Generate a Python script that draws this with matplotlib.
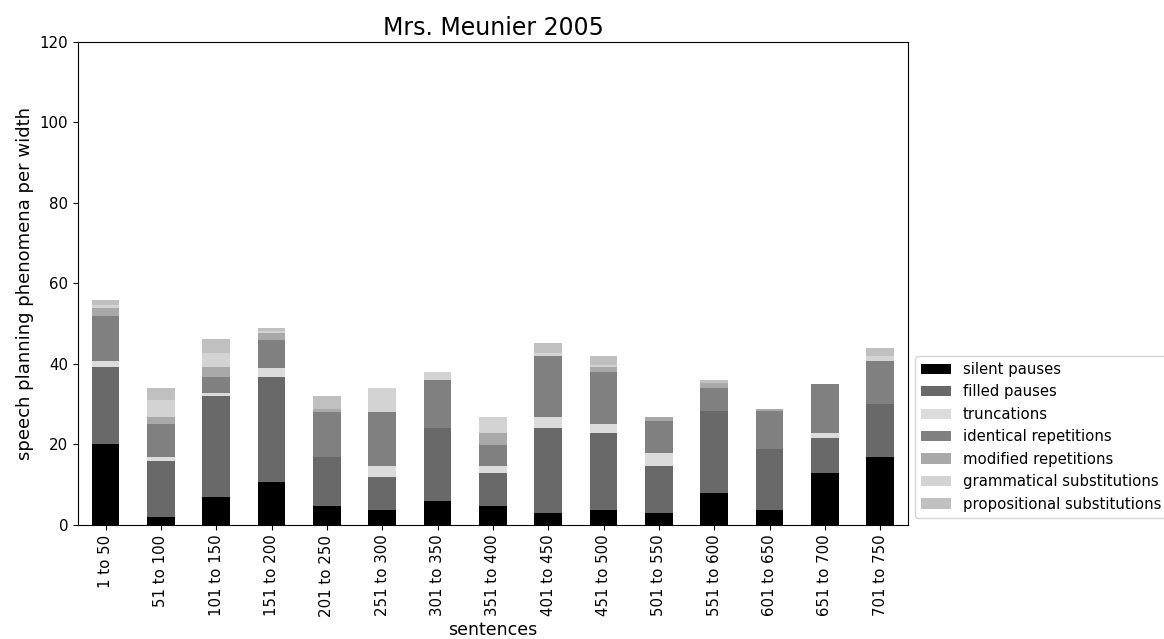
import matplotlib
matplotlib.use("Agg")
import matplotlib.pyplot as plt
import numpy as np

categories = ["1 to 50", "51 to 100", "101 to 150", "151 to 200", "201 to 250",
              "251 to 300", "301 to 350", "351 to 400", "401 to 450", "451 to 500",
              "501 to 550", "551 to 600", "601 to 650", "651 to 700", "701 to 750"]

silent_pauses = [20.0, 1.9, 7.0, 10.8, 4.8, 3.7, 6.0, 4.8, 3.1, 3.7, 3.1, 7.9, 3.7, 13.0, 17.0]
filled_pauses = [19.2, 14.0, 25.0, 26.0, 12.2, 8.1, 18.0, 8.0, 20.9, 19.1, 11.6, 20.3, 15.2, 8.7, 13.0]
truncations = [1.6, 1.1, 0.9, 2.1, 0.0, 2.9, 0.0, 1.9, 2.9, 2.2, 3.1, 0.0, 0.0, 1.1, 0.0]
identical_repetitions = [11.1, 8.1, 3.9, 7.1, 11.0, 13.3, 11.9, 5.2, 15.1, 13.1, 8.0, 5.8, 9.3, 12.2, 10.8]
modified_repetitions = [1.9, 1.8, 2.4, 1.8, 0.8, 0.0, 0.0, 2.9, 0.0, 1.1, 1.1, 1.2, 0.6, 0.0, 0.0]
grammatical_substitutions = [0.8, 4.2, 3.5, 0.4, 0.0, 6.0, 2.2, 4.1, 0.7, 0.6, 0.0, 0.0, 0.0, 0.0, 1.2]
propositional_substitutions = [1.4, 2.9, 3.4, 0.8, 3.2, 0.0, 0.0, 0.0, 2.4, 2.2, 0.0, 0.8, 0.0, 0.0, 1.9]

series = [
    ("silent pauses", silent_pauses, "black"),
    ("filled pauses", filled_pauses, "dimgray"),
    ("truncations", truncations, "gainsboro"),
    ("identical repetitions", identical_repetitions, "gray"),
    ("modified repetitions", modified_repetitions, "darkgray"),
    ("grammatical substitutions", grammatical_substitutions, "lightgray"),
    ("propositional substitutions", propositional_substitutions, "silver"),
]

fig = plt.figure(figsize=(11.64, 6.39), dpi=100)
ax = fig.add_axes([0.067, 0.1784, 0.713, 0.756])

x = np.arange(len(categories))
bottom = np.zeros(len(categories))
for label, values, color in series:
    vals = np.array(values)
    ax.bar(x, vals, width=0.5, bottom=bottom, color=color, label=label)
    bottom += vals

ax.set_xlim(-0.5, len(categories) - 0.5)
ax.set_ylim(0, 120)
ax.set_xticks(x)
ax.set_xticklabels(categories, rotation=90)
ax.tick_params(labelsize=10.8)
ax.set_xlabel("sentences", fontsize=12.5, labelpad=3)
ax.set_ylabel("speech planning phenomena per width", fontsize=13)
ax.set_title("Mrs. Meunier 2005", fontsize=17, pad=5)
ax.legend(loc="lower left", bbox_to_anchor=(1.0, 0.0), fontsize=10.7)

fig.savefig("out.png", dpi=100)
